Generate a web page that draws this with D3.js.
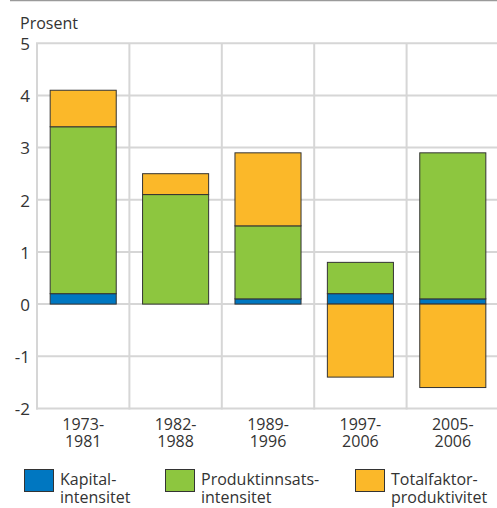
<!DOCTYPE html>
<html>
<head>
<meta charset="utf-8">
<script src="https://cdn.jsdelivr.net/npm/d3@7"></script>
<style>
  html, body { margin: 0; padding: 0; background: #fff; }
  svg { display: block; }
  text { font-family: "Open Sans", "Noto Sans", sans-serif; fill: #333; }
</style>
</head>
<body>
<svg id="chart" width="497" height="508"></svg>
<script>
const categories = ["1973-1981", "1982-1988", "1989-1996", "1997-2006", "2005-2006"];
const kapital = [0.2, 0.0, 0.1, 0.2, 0.1];
const produkt = [3.2, 2.1, 1.4, 0.6, 2.8];
const total = [0.7, 0.4, 1.4, -1.4, -1.6];
const yTicks = [-2, -1, 0, 1, 2, 3, 4, 5];
const seriesNames = ["Kapital-\nintensitet", "Produktinnsats-\nintensitet", "Totalfaktor-\nproduktivitet"];
const seriesColors = ["#0077c1", "#8dc63f", "#fbb829"];

const svg = d3.select("#chart");
const W = 497;

// top rule
svg.append("line").attr("x1", 10).attr("x2", W).attr("y1", 0.5).attr("y2", 0.5)
  .attr("stroke", "#9a9a9a").attr("stroke-width", 1.5);

const x = d3.scaleBand().domain(categories).range([37, 499]).padding(0);
const y = d3.scaleLinear().domain([-2, 5]).range([408.4, 43.3]);
const barW = x.bandwidth() * 0.715;

// grid
const grid = svg.append("g").attr("stroke", "#d6d6d6").attr("stroke-width", 2);
yTicks.forEach(t => {
  grid.append("line").attr("x1", 36).attr("x2", W).attr("y1", y(t)).attr("y2", y(t));
});
categories.forEach(c => {
  grid.append("line").attr("x1", x(c)).attr("x2", x(c)).attr("y1", y(5)).attr("y2", y(-2) + 1);
});

// y labels
svg.append("g").selectAll("text").data(yTicks).join("text")
  .attr("x", 30).attr("y", d => y(d)).attr("dy", "0.4em")
  .attr("text-anchor", "end").attr("font-size", 17)
  .text(d => d < 0 ? "-" + Math.abs(d) : d);

svg.append("text").attr("x", 20).attr("y", 29).attr("font-size", 16).text("Prosent");

// stacked bars
const stacks = categories.map((c, i) => {
  const segs = [];
  let pos = 0, neg = 0;
  [kapital[i], produkt[i], total[i]].forEach((v, s) => {
    if (v >= 0) { segs.push({ s, y0: pos, y1: pos + v }); pos += v; }
    else { segs.push({ s, y0: neg + v, y1: neg }); neg += v; }
  });
  return { c, segs };
});

const bars = svg.append("g");
stacks.forEach(st => {
  st.segs.forEach(sg => {
    if (sg.y1 - sg.y0 <= 0) return;
    bars.append("rect")
      .attr("x", x(st.c) + (x.bandwidth() - barW) / 2)
      .attr("width", barW)
      .attr("y", y(sg.y1))
      .attr("height", y(sg.y0) - y(sg.y1))
      .attr("fill", seriesColors[sg.s])
      .attr("stroke", "#333").attr("stroke-width", 1);
  });
});

// x labels
categories.forEach(c => {
  const parts = c.split("-");
  const t = svg.append("text").attr("text-anchor", "middle").attr("font-size", 16)
    .attr("x", x(c) + x.bandwidth() / 2);
  t.append("tspan").attr("x", x(c) + x.bandwidth() / 2).attr("y", 430).text(parts[0] + "-");
  t.append("tspan").attr("x", x(c) + x.bandwidth() / 2).attr("y", 447).text(parts[1]);
});

// legend
const legX = [24, 165, 355];
seriesNames.forEach((n, i) => {
  svg.append("rect").attr("x", legX[i] + 0.5).attr("y", 469.5).attr("width", 29).attr("height", 22)
    .attr("fill", seriesColors[i]).attr("stroke", "#333").attr("stroke-width", 1);
  const lines = n.split("\n");
  const t = svg.append("text").attr("font-size", 16);
  lines.forEach((l, k) => {
    t.append("tspan").attr("x", legX[i] + 36).attr("y", 485 + k * 17.5).text(l);
  });
});
</script>
</body>
</html>
